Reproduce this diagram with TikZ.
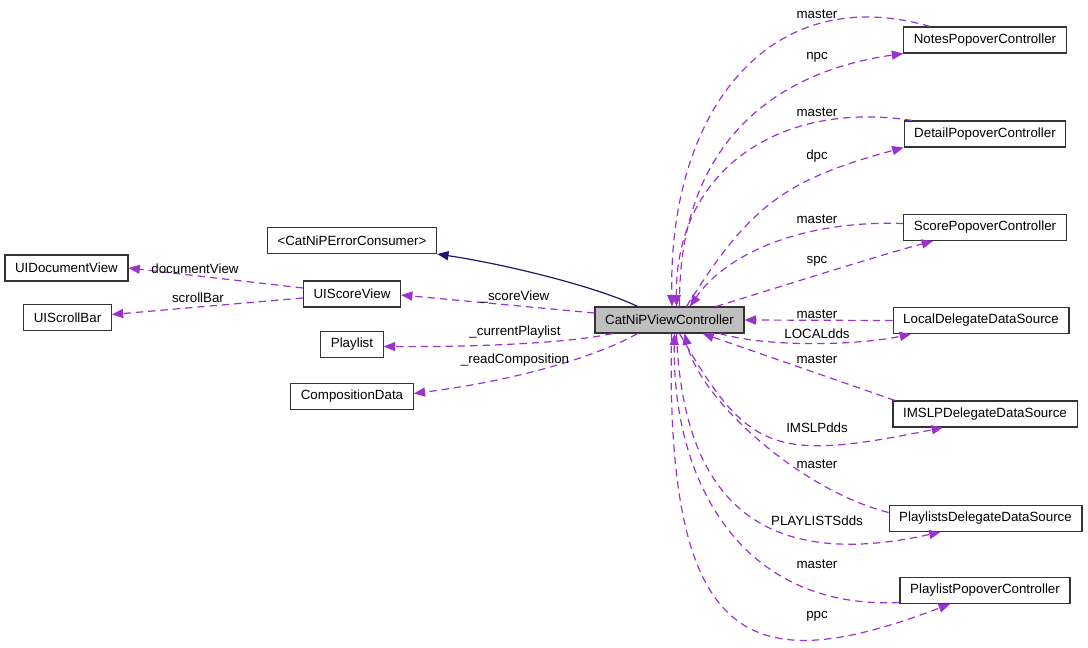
\documentclass[tikz,border=0pt]{standalone}
\usepackage{fontspec}
\setmainfont{Liberation Sans}
\usepackage{tikz}
\usetikzlibrary{positioning}
\usetikzlibrary{calc,arrows.meta}

\definecolor{memberpurple}{RGB}{154,50,205}
\definecolor{inheritblue}{RGB}{25,25,112}
\definecolor{boxgray}{RGB}{191,191,191}

\begin{document}
\begin{tikzpicture}[x=0.75pt,y=-0.75pt,
	ClassBox/.style={draw=black!80, line width=0.8pt, fill=white, minimum height=19.5pt, inner xsep=7.6pt, inner ysep=0pt, font=\fontsize{10}{12}\selectfont},
	MainBox/.style={ClassBox, fill=boxgray},
	MemberEdge/.style={draw=memberpurple, line width=0.9pt, dash pattern=on 5.5pt off 3.75pt, -{Triangle[length=8.5pt,width=6.8pt]}, fill=none},
	InheritEdge/.style={draw=inheritblue, line width=0.9pt, -{Triangle[length=8.5pt,width=6.8pt]}},
	EdgeText/.style={inner sep=0pt, font=\fontsize{10}{12}\selectfont}]

	\useasboundingbox (0,0) rectangle (1088,648);

	% ---------------------
	% Classes
	\node[MainBox]  (ViewController)  at (669.5,320) {CatNiPViewController};

	\node[ClassBox] (ErrorConsumer)   at (352,240.5) {<CatNiPErrorConsumer>};
	\node[ClassBox] (ScoreView)       at (352,294)   {UIScoreView};
	\node[ClassBox] (Playlist)        at (352,344.5) {Playlist};
	\node[ClassBox] (CompositionData) at (352,396.5) {CompositionData};
	\node[ClassBox] (DocumentView)    at (66.5,268)  {UIDocumentView};
	\node[ClassBox] (ScrollBar)       at (67.5,317.5) {UIScrollBar};

	\node[ClassBox] (NotesPopover)    at (985,40)    {NotesPopoverController};
	\node[ClassBox] (DetailPopover)   at (985,134)   {DetailPopoverController};
	\node[ClassBox] (ScorePopover)    at (985,227.5) {ScorePopoverController};
	\node[ClassBox] (LocalDS)         at (981,320.5) {LocalDelegateDataSource};
	\node[ClassBox] (IMSLPDS)         at (985,414)   {IMSLPDelegateDataSource};
	\node[ClassBox] (PlaylistsDS)     at (985.5,518.5) {PlaylistsDelegateDataSource};
	\node[ClassBox] (PlaylistPopover) at (985,590.5) {PlaylistPopoverController};

	% ---------------------
	% Inheritance
	\draw[InheritEdge] ([shift={(-32,0)}]ViewController.north) .. controls (600,288) and (510,265) .. (ErrorConsumer.south east);

	% ---------------------
	% Left members
	\draw[MemberEdge] ([shift={(0,-6)}]ScoreView.west) -- (DocumentView.east);
	\draw[MemberEdge] ([shift={(0,4)}]ScoreView.west) -- ([shift={(0,-3)}]ScrollBar.east);
	\draw[MemberEdge] ([shift={(0,-7)}]ViewController.west) -- ([shift={(0,1)}]ScoreView.east);
	\draw[MemberEdge] ([shift={(-57,0)}]ViewController.south) .. controls (560,345) and (450,347) .. ([shift={(0,2)}]Playlist.east);
	\draw[MemberEdge] ([shift={(-32,0)}]ViewController.south) .. controls (600,355) and (520,380) .. ([shift={(0,-3)}]CompositionData.east);

	\node[EdgeText] (tDocumentView) at (195,269) {documentView};
	\node[EdgeText] (tScrollBar)    at (198,298) {scrollBar};
	\node[EdgeText] (tScoreView)    at (515,297) {\_scoreView};
	\node[EdgeText] (tPlaylist)     at (515,332) {\_currentPlaylist};
	\node[EdgeText] (tComposition)  at (515,360) {\_readComposition};

	% ---------------------
	% Popovers above
	\draw[MemberEdge] ([shift={(-55,0)}]NotesPopover.north) .. controls (770,-20) and (668,110) .. ([shift={(2.5,0)}]ViewController.north);
	\draw[MemberEdge] ([shift={(10,0)}]ViewController.north) .. controls (678,157) and (760,74) .. (NotesPopover.south west);
	\draw[MemberEdge] ([shift={(-73,0)}]DetailPopover.north) .. controls (780,100) and (675,170) .. ([shift={(7,0)}]ViewController.north);
	\draw[MemberEdge] ([shift={(17,0)}]ViewController.north) .. controls (750,205) and (785,180) .. (DetailPopover.south west);
	\draw[MemberEdge] ([shift={(0,-4)}]ScorePopover.west) .. controls (800,220) and (725,255) .. ([shift={(20.5,0)}]ViewController.north);
	\draw[MemberEdge] ([shift={(46.5,0)}]ViewController.north) .. controls (770,290) and (880,255) .. ([shift={(-52,0)}]ScorePopover.south);

	\node[EdgeText] (tNotesM)  at (817,14)  {master};
	\node[EdgeText] (tNotes)   at (817,57)  {npc};
	\node[EdgeText] (tDetailM) at (817,112) {master};
	\node[EdgeText] (tDetail)  at (817,156) {dpc};
	\node[EdgeText] (tScoreM)  at (817,219) {master};
	\node[EdgeText] (tScore)   at (817,261) {spc};

	% ---------------------
	% Data sources and popover below
	\draw[MemberEdge] (LocalDS.west) -- (ViewController.east);
	\draw[MemberEdge] ([shift={(50,0)}]ViewController.south) .. controls (770,348) and (860,345) .. ([shift={(-70,0)}]LocalDS.south);
	\draw[MemberEdge] ([shift={(-90,0)}]IMSLPDS.north) -- ([shift={(33,0)}]ViewController.south);
	\draw[MemberEdge] ([shift={(10,0)}]ViewController.south) .. controls (748,453) and (774,462) .. ([shift={(-42,0)}]IMSLPDS.south);
	\draw[MemberEdge] ([shift={(0,-6)}]PlaylistsDS.west) .. controls (800,490) and (700,400) .. ([shift={(15,0)}]ViewController.south);
	\draw[MemberEdge] ([shift={(7,0)}]ViewController.south) .. controls (683,510) and (770,570) .. ([shift={(-45,0)}]PlaylistsDS.south);
	\draw[MemberEdge] ([shift={(0,12)}]PlaylistPopover.west) .. controls (740,610) and (672,480) .. ([shift={(5,0)}]ViewController.south);
	\draw[MemberEdge] ([shift={(2,0)}]ViewController.south) .. controls (665,650) and (750,680) .. ([shift={(-35,0)}]PlaylistPopover.south);

	\node[EdgeText] (tLocalM)     at (817,314) {master};
	\node[EdgeText] (tLocal)      at (817,334) {LOCALdds};
	\node[EdgeText] (tIMSLPM)     at (817,359) {master};
	\node[EdgeText] (tIMSLP)      at (817,428) {IMSLPdds};
	\node[EdgeText] (tPlaylistsM) at (817,464) {master};
	\node[EdgeText] (tPlaylists)  at (817,521) {PLAYLISTSdds};
	\node[EdgeText] (tPopoverM)   at (817,564) {master};
	\node[EdgeText] (tPopover)    at (817,616) {ppc};

\end{tikzpicture}
\end{document}
